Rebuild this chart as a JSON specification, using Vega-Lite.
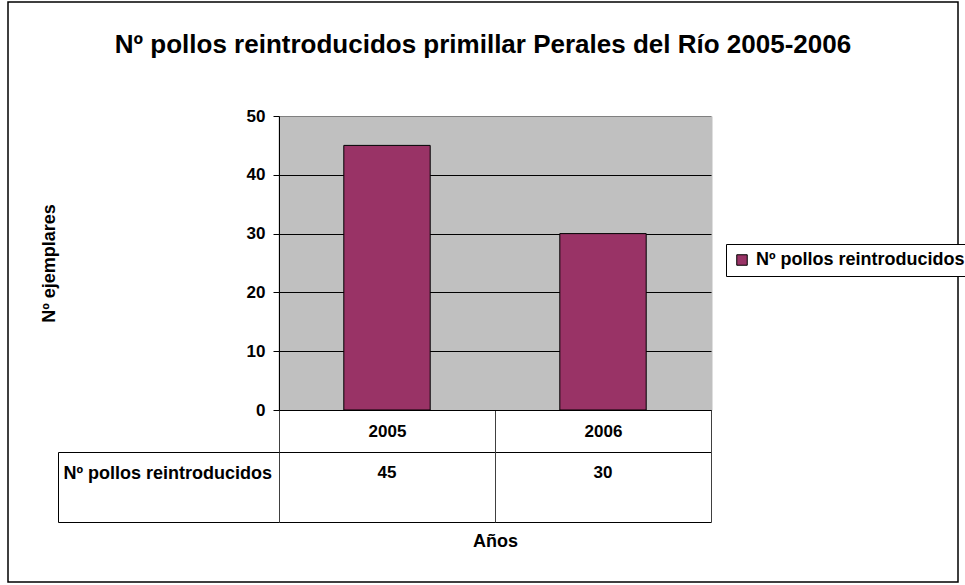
{
  "$schema": "https://vega.github.io/schema/vega-lite/v6.json",
  "width": 950,
  "height": 580,
  "autosize": {"type": "none"},
  "padding": {"left": 8, "top": 2, "right": 7, "bottom": 3},
  "background": "white",
  "config": {
    "font": "Liberation Sans",
    "view": {"stroke": "black", "strokeWidth": 1.5, "fill": "white"}
  },
  "title": {
    "text": "Nº pollos reintroducidos primillar Perales del Río 2005-2006",
    "fontSize": 26,
    "fontWeight": "bold",
    "color": "black",
    "anchor": "middle",
    "offset": -65
  },
  "data": {
    "values": [
      {"Año": "2005", "serie": "Nº pollos reintroducidos", "valor": 45},
      {"Año": "2006", "serie": "Nº pollos reintroducidos", "valor": 30}
    ]
  },
  "layer": [
    {
      "mark": {"type": "bar", "stroke": "black", "strokeWidth": 1, "width": {"band": 0.4}},
      "encoding": {
        "x": {
          "field": "Año",
          "type": "nominal",
          "scale": {"domain": ["2005", "2006"], "range": [271, 703], "paddingInner": 0, "paddingOuter": 0},
          "axis": {
            "orient": "top",
            "offset": 0,
            "grid": true,
            "gridColor": "#C0C0C0",
            "gridWidth": 218,
            "gridOpacity": 1,
            "ticks": false,
            "labels": false,
            "domain": false,
            "title": null
          }
        },
        "y": {
          "field": "valor",
          "type": "quantitative",
          "scale": {"domain": [0, 50], "range": [408, 114], "nice": false, "zero": true},
          "axis": {
            "orient": "left",
            "offset": -271,
            "values": [0, 10, 20, 30, 40, 50],
            "grid": true,
            "gridColor": {"condition": {"test": "datum.value === 50", "value": "#808080"}, "value": "black"},
            "gridWidth": 1,
            "gridOpacity": 1,
            "domain": true,
            "domainColor": "black",
            "domainWidth": 1,
            "ticks": true,
            "tickColor": "black",
            "tickSize": 6,
            "labelFontSize": 17,
            "labelFontWeight": "bold",
            "labelColor": "black",
            "labelPadding": 8,
            "title": "Nº ejemplares",
            "titleFontSize": 18,
            "titleFontWeight": "bold",
            "titleColor": "black",
            "titlePadding": 188
          }
        },
        "color": {
          "field": "serie",
          "type": "nominal",
          "scale": {"range": ["#993366"]},
          "legend": {
            "orient": "none",
            "legendX": 718,
            "legendY": 242,
            "title": null,
            "symbolType": "square",
            "symbolSize": 110,
            "symbolStrokeColor": "black",
            "symbolStrokeWidth": 1,
            "labelFontSize": 18,
            "labelFontWeight": "bold",
            "labelColor": "black",
            "labelLimit": 0,
            "labelOffset": 5,
            "strokeColor": "black",
            "fillColor": "white",
            "padding": 7
          }
        }
      }
    },
    {
      "mark": {"type": "text", "fontSize": 17, "fontWeight": "bold", "color": "black", "baseline": "middle"},
      "encoding": {
        "x": {
          "field": "Año",
          "type": "nominal",
          "scale": {"domain": ["2005", "2006"], "range": [271, 703], "paddingInner": 0, "paddingOuter": 0},
          "axis": {
            "orient": "bottom",
            "offset": -172,
            "domain": true,
            "domainColor": "black",
            "domainWidth": 1,
            "ticks": true,
            "tickBand": "extent",
            "tickSize": 112,
            "tickColor": "#404040",
            "tickWidth": 1,
            "grid": false,
            "labelAngle": 0,
            "labelFontSize": 17,
            "labelFontWeight": "bold",
            "labelColor": "black",
            "labelBaseline": "middle",
            "labelPadding": -91,
            "title": "Años",
            "titleFontSize": 18,
            "titleFontWeight": "bold",
            "titleColor": "black",
            "titlePadding": 10
          }
        },
        "y": {
          "field": "serie",
          "type": "nominal",
          "bandPosition": 0.3,
          "scale": {"type": "band", "range": [450, 520], "paddingInner": 0, "paddingOuter": 0},
          "axis": {
            "orient": "left",
            "offset": -50,
            "domain": true,
            "domainColor": "black",
            "domainWidth": 1,
            "ticks": true,
            "tickBand": "extent",
            "tickSize": -221,
            "tickColor": "black",
            "grid": true,
            "gridColor": "black",
            "gridOpacity": 1,
            "labelFontSize": 18,
            "labelFontWeight": "bold",
            "labelColor": "black",
            "labelAlign": "left",
            "labelPadding": 216,
            "labelLimit": 0,
            "labelOffset": -14,
            "title": null
          }
        },
        "text": {"field": "valor", "type": "quantitative"}
      }
    }
  ],
  "resolve": {"scale": {"x": "independent", "y": "independent", "color": "independent"}}
}
